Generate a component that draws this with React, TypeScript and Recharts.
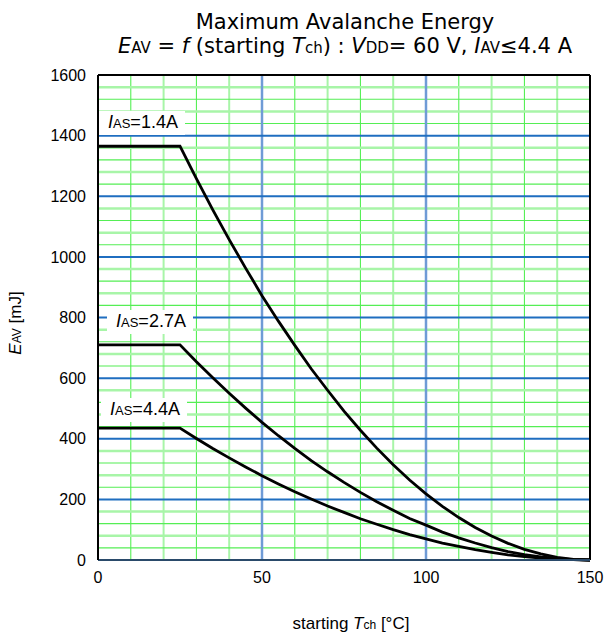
import React from 'react';
import { LineChart, Line, XAxis, YAxis, ReferenceLine } from 'recharts';

// starting channel temperature [°C]
const TEMPS = [0, 25, 30, 35, 40, 45, 50, 55, 60, 65, 70, 75, 80, 85, 90, 95, 100, 105, 110, 115, 120, 125, 130, 135, 140, 145, 150];

// avalanche energy [mJ]
const E_14A = [1365, 1365, 1258, 1155, 1057, 963, 872, 788, 708, 631, 560, 491, 428, 369, 314, 264, 218, 177, 140, 107, 79, 55, 35, 20, 9, 2, 0];
const E_27A = [710, 710, 654, 601, 550, 501, 454, 410, 368, 328, 291, 256, 223, 192, 164, 137, 115, 92, 73, 56, 41, 28, 18, 10, 5, 1, 0];
const E_44A = [435, 435, 401, 368, 337, 307, 278, 251, 225, 201, 178, 157, 136, 118, 100, 84, 70, 56, 45, 34, 25, 17, 11, 6, 3, 1, 0];

const X_TICKS = [0, 50, 100, 150];
const Y_TICKS = [0, 200, 400, 600, 800, 1000, 1200, 1400, 1600];
const X_MINOR = [10, 20, 30, 40, 60, 70, 80, 90, 110, 120, 130, 140];
const Y_MINOR = [
  40, 80, 120, 160, 240, 280, 320, 360, 440, 480, 520, 560, 640, 680, 720, 760,
  840, 880, 920, 960, 1040, 1080, 1120, 1160, 1240, 1280, 1320, 1360, 1440, 1480, 1520, 1560,
];

const data = TEMPS.map((t, i) => ({ t, a: E_14A[i], b: E_27A[i], c: E_44A[i] }));

const FONT = '"Liberation Sans", Arial, sans-serif';
const TITLE_FONT = '"DejaVu Sans", Verdana, sans-serif';

function CurveLabel({ left, top, amps }: { left: number; top: number; amps: string }) {
  return (
    <div
      style={{
        position: 'absolute', left, top, background: '#fff', padding: '1px 7px 1px 9px',
        fontFamily: FONT, fontSize: 18, lineHeight: '21px', color: '#000', whiteSpace: 'nowrap',
      }}
    >
      <i>I</i><span style={{ fontSize: 13 }}>AS</span>={amps}
    </div>
  );
}

export default function App() {
  return (
    <div style={{ position: 'absolute', left: 0, top: 0, width: 606, height: 640, background: '#fff' }}>
      <LineChart width={606} height={640} data={data} margin={{ top: 75, right: 16, bottom: 50, left: 0 }}>
        {X_MINOR.map((v, i) => (
          <ReferenceLine key={`xm${v}`} x={v} stroke={i % 2 ? '#a8f5a8' : '#44ee44'} strokeWidth={i % 2 ? 2 : 1} />
        ))}
        {Y_MINOR.map((v, i) => (
          <ReferenceLine key={`ym${v}`} y={v} stroke={i % 2 ? '#a8f5a8' : '#55ee55'} strokeWidth={i % 2 ? 2.5 : 1.2} />
        ))}
        {[50, 100].map((v) => (
          <ReferenceLine key={`xM${v}`} x={v} stroke="#6f9bd6" strokeWidth={2.5} />
        ))}
        {[200, 400, 600, 800, 1000, 1200, 1400].map((v) => (
          <ReferenceLine key={`yM${v}`} y={v} stroke="#1f6ec0" strokeWidth={2} />
        ))}
        <ReferenceLine x={150} stroke="#000" strokeWidth={2} />
        <ReferenceLine y={1600} stroke="#000" strokeWidth={2} />
        <XAxis
          dataKey="t" type="number" domain={[0, 150]} ticks={X_TICKS} height={30}
          axisLine={{ stroke: '#2a4a6a', strokeWidth: 2 }} tickLine={false}
          tick={{ fontSize: 16, fill: '#000', fontFamily: FONT }} tickMargin={6}
        />
        <YAxis
          type="number" domain={[0, 1600]} ticks={Y_TICKS} width={98}
          axisLine={{ stroke: '#000', strokeWidth: 2 }} tickLine={false}
          tick={{ fontSize: 16, fill: '#000', fontFamily: FONT }} tickMargin={6}
        />
        <Line type="linear" dataKey="a" stroke="#000" strokeWidth={2.8} dot={false} isAnimationActive={false} />
        <Line type="linear" dataKey="b" stroke="#000" strokeWidth={2.8} dot={false} isAnimationActive={false} />
        <Line type="linear" dataKey="c" stroke="#000" strokeWidth={2.8} dot={false} isAnimationActive={false} />
      </LineChart>

      <div style={{ position: 'absolute', left: 0, width: 690, top: 10, textAlign: 'center', fontFamily: TITLE_FONT, fontSize: 21, lineHeight: '24px', color: '#000' }}>
        <div>Maximum Avalanche Energy</div>
        <div>
          <i>E</i><span style={{ fontSize: 15 }}>AV</span> = <i>f</i> (starting <i>T</i><span style={{ fontSize: 15 }}>ch</span>) : <i>V</i><span style={{ fontSize: 15 }}>DD</span>= 60 V, <i>I</i><span style={{ fontSize: 15 }}>AV</span>≤4.4 A
        </div>
      </div>

      <CurveLabel left={99} top={111} amps="1.4A" />
      <CurveLabel left={107} top={310} amps="2.7A" />
      <CurveLabel left={101} top={398} amps="4.4A" />

      <div style={{ position: 'absolute', left: 16, top: 323, transform: 'translate(-50%, -50%) rotate(-90deg)', fontFamily: FONT, fontSize: 17, whiteSpace: 'nowrap', color: '#000' }}>
        <i>E</i><span style={{ fontSize: 12 }}>AV</span> [mJ]
      </div>

      <div style={{ position: 'absolute', left: 110, width: 482, top: 614, textAlign: 'center', fontFamily: FONT, fontSize: 17, color: '#000' }}>
        starting <i>T</i><span style={{ fontSize: 12 }}>ch</span> [°C]
      </div>
    </div>
  );
}
